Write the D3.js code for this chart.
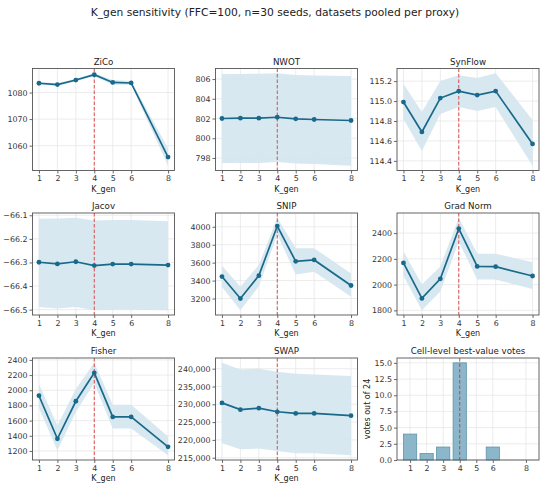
<!DOCTYPE html>
<html>
<head>
<meta charset="utf-8">
<script src="https://cdn.jsdelivr.net/npm/d3@7"></script>
<style>
  body { margin: 0; background: #fff; }
  svg { font-family: "DejaVu Sans", sans-serif; }
</style>
</head>
<body>
<div id="chart"></div>
<script>
// K_gen values used on every x axis
var kGen = [1, 2, 3, 4, 5, 6, 8];

// per-proxy mean and band (lo / hi)
var zicoMean = [1083.5, 1083.0, 1084.7, 1086.7, 1083.8, 1083.6, 1055.7];
var zicoLo   = [1083.0, 1082.5, 1084.2, 1086.1, 1082.9, 1082.9, 1052.4];
var zicoHi   = [1084.0, 1083.5, 1085.2, 1087.3, 1084.7, 1084.3, 1059.0];

var nwotMean = [802.0, 802.03, 802.03, 802.13, 801.97, 801.9, 801.8];
var nwotLo   = [797.5, 797.5, 797.5, 797.6, 797.45, 797.4, 797.2];
var nwotHi   = [806.5, 806.5, 806.55, 806.6, 806.4, 806.35, 806.3];

var synMean = [114.99, 114.69, 115.03, 115.10, 115.06, 115.10, 114.57];
var synLo   = [114.82, 114.50, 114.87, 114.94, 114.90, 114.94, 114.35];
var synHi   = [115.17, 114.89, 115.20, 115.26, 115.23, 115.28, 114.81];

var jacMean = [-66.299, -66.306, -66.297, -66.313, -66.307, -66.307, -66.311];
var jacLo   = [-66.489, -66.495, -66.489, -66.503, -66.500, -66.500, -66.503];
var jacHi   = [-66.115, -66.114, -66.110, -66.122, -66.120, -66.120, -66.125];

var snipMean = [3445, 3200, 3455, 4008, 3615, 3630, 3345];
var snipLo   = [3328, 3068, 3336, 3913, 3468, 3498, 3219];
var snipHi   = [3566, 3332, 3574, 4102, 3762, 3762, 3479];

var gradMean = [2168, 1893, 2045, 2435, 2141, 2139, 2067];
var gradLo   = [2067, 1800, 1947, 2333, 2040, 2040, 1965];
var gradHi   = [2259, 2000, 2141, 2520, 2240, 2240, 2173];

var fishMean = [1928, 1360, 1855, 2229, 1649, 1649, 1254];
var fishLo   = [1766, 1205, 1712, 2094, 1497, 1497, 1142];
var fishHi   = [2081, 1535, 2018, 2364, 1809, 1809, 1391];

var swapMean = [230400, 228500, 228900, 227900, 227450, 227450, 226800];
var swapLo   = [219060, 217380, 217570, 216900, 216250, 216250, 215660];
var swapHi   = [241700, 239800, 240000, 239160, 238600, 238400, 237940];

var votes = [4, 1, 2, 15, 0, 2, 0];

// tick labels per panel
var zicoTicks = [1060, 1070, 1080];
var nwotTicks = [798, 800, 802, 804, 806];
var synTicks  = [114.4, 114.6, 114.8, 115.0, 115.2];
var jacTicks  = [-66.5, -66.4, -66.3, -66.2, -66.1];
var snipTicks = [3200, 3400, 3600, 3800, 4000];
var gradTicks = [1800, 2000, 2200, 2400];
var fishTicks = [1200, 1400, 1600, 1800, 2000, 2200, 2400];
var swapTicks = [215000, 220000, 225000, 230000, 235000, 240000];
var voteTicks = [0, 2.5, 5, 7.5, 10, 12.5, 15];

var chosenK = 4;

var W = 550, H = 488;
var lineColor = "#19698a", bandColor = "#d3e5ee";
var colX = [32.5, 215.5, 397], rowY = [68.5, 213, 358];
var pw = 142, ph = 102;

var svg = d3.select("#chart").append("svg")
  .attr("width", W).attr("height", H);

svg.append("text")
  .attr("x", W / 2).attr("y", 16)
  .attr("text-anchor", "middle")
  .style("font-size", "10.7px").style("fill", "#222")
  .text("K_gen sensitivity (FFC=100, n=30 seeds, datasets pooled per proxy)");

var fmtMinus = function(s) { return s.replace("-", "\u2212"); };

var panels = [
  {name: "ZiCo", mean: zicoMean, lo: zicoLo, hi: zicoHi, ticks: zicoTicks, fmt: d3.format("d")},
  {name: "NWOT", mean: nwotMean, lo: nwotLo, hi: nwotHi, ticks: nwotTicks, fmt: d3.format("d")},
  {name: "SynFlow", mean: synMean, lo: synLo, hi: synHi, ticks: synTicks, fmt: d3.format(".1f")},
  {name: "Jacov", mean: jacMean, lo: jacLo, hi: jacHi, ticks: jacTicks, fmt: function(d) { return fmtMinus(d3.format(".1f")(d)); }},
  {name: "SNIP", mean: snipMean, lo: snipLo, hi: snipHi, ticks: snipTicks, fmt: d3.format("d")},
  {name: "Grad Norm", mean: gradMean, lo: gradLo, hi: gradHi, ticks: gradTicks, fmt: d3.format("d")},
  {name: "Fisher", mean: fishMean, lo: fishLo, hi: fishHi, ticks: fishTicks, fmt: d3.format("d")},
  {name: "SWAP", mean: swapMean, lo: swapLo, hi: swapHi, ticks: swapTicks, fmt: d3.format(",")}
];

function frame(g, x, y, ticks, fmt, title) {
  // grid
  g.append("g").selectAll("line").data(kGen).join("line")
    .attr("x1", d => x(d)).attr("x2", d => x(d))
    .attr("y1", 0).attr("y2", ph)
    .attr("stroke", "#e4e4e4").attr("stroke-width", 0.7);
  g.append("g").selectAll("line").data(ticks).join("line")
    .attr("x1", 0).attr("x2", pw)
    .attr("y1", d => y(d)).attr("y2", d => y(d))
    .attr("stroke", "#e4e4e4").attr("stroke-width", 0.7);

  var xa = g.append("g").attr("transform", "translate(0," + ph + ")")
    .call(d3.axisBottom(x).tickValues(kGen).tickSize(3).tickPadding(2).tickFormat(d3.format("d")));
  var ya = g.append("g")
    .call(d3.axisLeft(y).tickValues(ticks).tickSize(3).tickPadding(2).tickFormat(fmt));
  [xa, ya].forEach(function(a) {
    a.select(".domain").remove();
    a.selectAll("line").attr("stroke", "#444").attr("stroke-width", 0.8);
    a.selectAll("text").style("font-size", "7.9px").style("fill", "#333")
      .style("font-family", "DejaVu Sans, sans-serif");
  });

  g.append("text").attr("x", pw / 2).attr("y", -4)
    .attr("text-anchor", "middle")
    .style("font-size", "8.7px").style("fill", "#222")
    .text(title);
  g.append("text").attr("x", pw / 2).attr("y", ph + 21)
    .attr("text-anchor", "middle")
    .style("font-size", "8px").style("fill", "#222")
    .text("K_gen");
}

function border(g) {
  g.append("rect").attr("width", pw).attr("height", ph)
    .attr("fill", "none").attr("stroke", "#555").attr("stroke-width", 0.9);
}

panels.forEach(function(p, i) {
  var g = svg.append("g")
    .attr("transform", "translate(" + colX[i % 3] + "," + rowY[Math.floor(i / 3)] + ")");

  var x = d3.scaleLinear().domain([0.65, 8.35]).range([0, pw]);
  var lo = d3.min(p.lo), hi = d3.max(p.hi), pad = (hi - lo) * 0.05;
  var y = d3.scaleLinear().domain([lo - pad, hi + pad]).range([ph, 0]);

  frame(g, x, y, p.ticks, p.fmt, p.name);

  var rows = kGen.map((k, j) => ({k: k, m: p.mean[j], lo: p.lo[j], hi: p.hi[j]}));

  g.append("path").datum(rows)
    .attr("fill", bandColor).attr("opacity", 0.9)
    .attr("d", d3.area().x(d => x(d.k)).y0(d => y(d.lo)).y1(d => y(d.hi)));

  g.append("line")
    .attr("x1", x(chosenK)).attr("x2", x(chosenK))
    .attr("y1", 0).attr("y2", ph)
    .attr("stroke", "#d62728").attr("stroke-width", 1).attr("opacity", 0.8)
    .attr("stroke-dasharray", "3.5,2");

  g.append("path").datum(rows)
    .attr("fill", "none").attr("stroke", lineColor).attr("stroke-width", 1.7)
    .attr("d", d3.line().x(d => x(d.k)).y(d => y(d.m)));

  g.selectAll("circle").data(rows).join("circle")
    .attr("cx", d => x(d.k)).attr("cy", d => y(d.m)).attr("r", 2.4)
    .attr("fill", lineColor);

  border(g);
});

// votes bar panel
(function() {
  var g = svg.append("g").attr("transform", "translate(" + colX[2] + "," + rowY[2] + ")");
  var x = d3.scaleLinear().domain([0.21, 8.79]).range([0, pw]);
  var y = d3.scaleLinear().domain([0, d3.max(votes) * 1.05]).range([ph, 0]);

  frame(g, x, y, voteTicks, d3.format(".1f"), "Cell-level best-value votes");
  g.selectAll("text").filter(function() { return d3.select(this).text() === "K_gen"; }).remove();

  g.selectAll("rect.bar").data(kGen.map((k, j) => ({k: k, v: votes[j]}))).join("rect")
    .attr("class", "bar")
    .attr("x", d => x(d.k - 0.4)).attr("width", x(0.8) - x(0))
    .attr("y", d => y(d.v)).attr("height", d => ph - y(d.v))
    .attr("fill", "#8cb6ca").attr("stroke", "#5f93ab").attr("stroke-width", 0.8);

  g.append("line")
    .attr("x1", x(chosenK)).attr("x2", x(chosenK))
    .attr("y1", 0).attr("y2", ph)
    .attr("stroke", "#d62728").attr("stroke-width", 1).attr("opacity", 0.8)
    .attr("stroke-dasharray", "3.5,2");

  g.append("text")
    .attr("transform", "translate(-27," + (ph / 2) + ") rotate(-90)")
    .attr("text-anchor", "middle")
    .style("font-size", "8px").style("fill", "#222")
    .text("votes out of 24");

  border(g);
})();
</script>
</body>
</html>
